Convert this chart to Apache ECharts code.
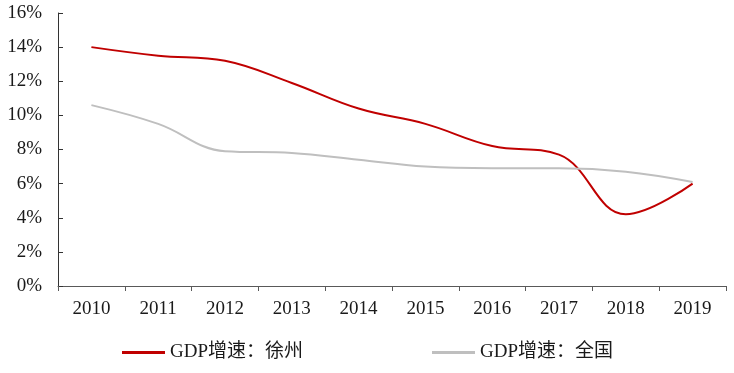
<!DOCTYPE html>
<html>
<head>
<meta charset="utf-8">
<script src="https://cdn.jsdelivr.net/npm/echarts@6/dist/echarts.min.js"></script>
<style>html,body{margin:0;padding:0;background:#fff;}#c{width:734px;height:373px;}</style>
</head>
<body>
<div id="c"></div>
<script>
const years = ['2010','2011','2012','2013','2014','2015','2016','2017','2018','2019'];
const xuzhou = [14.0, 13.5, 13.2, 11.9, 10.4, 9.5, 8.2, 7.7, 4.2, 6.0];
const national = [10.6, 9.5, 7.9, 7.8, 7.4, 7.0, 6.9, 6.9, 6.7, 6.1];
const yTicks = { min: 0, max: 16, interval: 2 };
const names = ['GDP增速：徐州', 'GDP增速：全国'];

const font = '"Liberation Serif", "Times New Roman", "Noto Sans CJK SC", serif';
const textColor = '#1a1a1a';
const chart = echarts.init(document.getElementById('c'));
chart.setOption({
  animation: false,
  grid: { left: 58, right: 8, top: 13, bottom: 87 },
  legend: [
    { data: [names[0]], left: 117, top: 338, itemWidth: 43, itemHeight: 3, itemGap: 0, icon: 'rect',
      textStyle: { fontFamily: font, fontSize: 19, color: textColor } },
    { data: [names[1]], left: 427, top: 338, itemWidth: 43, itemHeight: 3, itemGap: 0, icon: 'rect',
      textStyle: { fontFamily: font, fontSize: 19, color: textColor } }
  ],
  xAxis: {
    type: 'category', data: years, boundaryGap: true,
    axisLine: { lineStyle: { color: '#595959', width: 1 } },
    axisTick: { show: true, length: 5, lineStyle: { color: '#595959' } },
    axisLabel: { fontFamily: font, fontSize: 19, color: textColor, margin: 14 }
  },
  yAxis: {
    type: 'value', min: yTicks.min, max: yTicks.max, interval: yTicks.interval,
    splitLine: { show: false },
    axisLine: { show: true, lineStyle: { color: '#333', width: 1 } },
    axisTick: { show: true, inside: true, length: 5, lineStyle: { color: '#333' } },
    axisLabel: { fontFamily: font, fontSize: 19, color: textColor, margin: 16, formatter: '{value}%' }
  },
  series: [
    { name: names[0], type: 'line', data: xuzhou, smooth: 0.4, symbol: 'none',
      lineStyle: { color: '#C00000', width: 2 }, itemStyle: { color: '#C00000' } },
    { name: names[1], type: 'line', data: national, smooth: 0.4, symbol: 'none',
      lineStyle: { color: '#BFBFBF', width: 2 }, itemStyle: { color: '#BFBFBF' } }
  ]
});
</script>
</body>
</html>
